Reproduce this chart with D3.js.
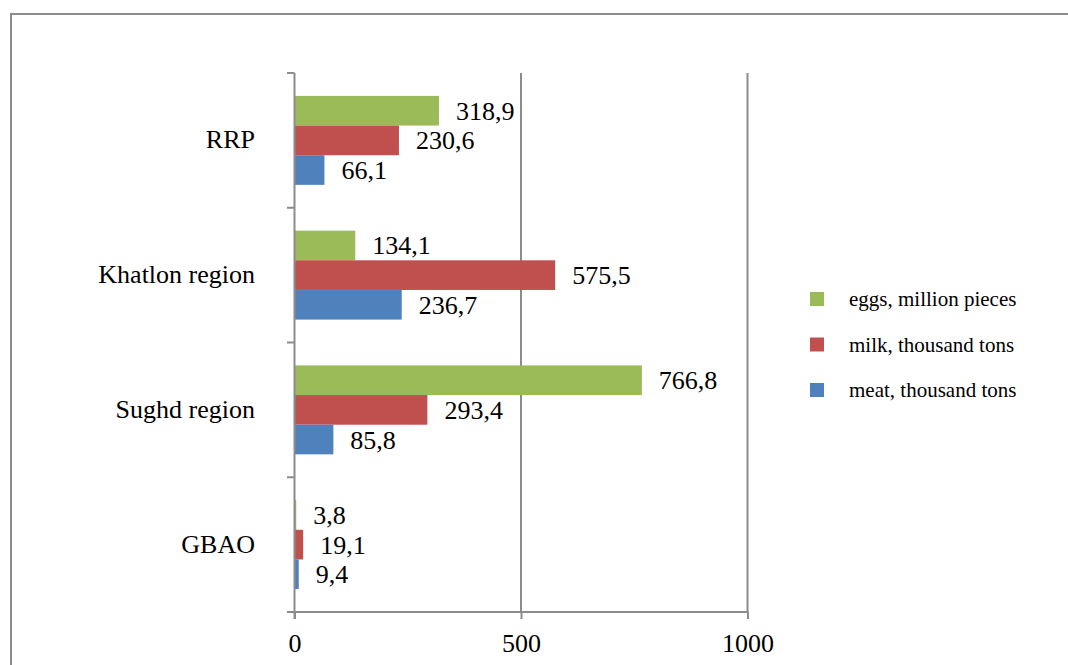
<!DOCTYPE html>
<html>
<head>
<meta charset="utf-8">
<script src="https://cdn.jsdelivr.net/npm/d3@7"></script>
<style>
  html, body { margin: 0; padding: 0; background: #fff; }
  svg { display: block; font-family: "Liberation Serif", "Times New Roman", serif; }
</style>
</head>
<body>
<svg id="chart" width="1068" height="665"></svg>
<script>
// Regions, top to bottom
const regions = ["RRP", "Khatlon region", "Sughd region", "GBAO"];
// Series, in the order they appear inside each group (top to bottom)
const seriesNames = ["eggs, million pieces", "milk, thousand tons", "meat, thousand tons"];
const seriesColors = ["#9BBB59", "#C0504D", "#4F81BD"];
const eggs = [318.9, 134.1, 766.8, 3.8];
const milk = [230.6, 575.5, 293.4, 19.1];
const meat = [66.1, 236.7, 85.8, 9.4];
const xTicks = [0, 500, 1000];

const seriesValues = [eggs, milk, meat];

const svg = d3.select("#chart");
const fmt = d3.formatLocale({ decimal: ",", thousands: " ", grouping: [3], currency: ["", ""] }).format(".1f");

// Outer frame
svg.append("rect")
  .attr("x", 11).attr("y", 14)
  .attr("width", 1100).attr("height", 700)
  .attr("fill", "none").attr("stroke", "#8c8c8c").attr("stroke-width", 2);

const plotTop = 73, plotBottom = 612;
const x = d3.scaleLinear().domain([0, 1000]).range([294.5, 747.5]);
const y = d3.scaleBand().domain(regions).range([plotTop, plotBottom])
  .paddingInner(0.34).paddingOuter(0.17);
const ySub = d3.scaleBand().domain(seriesNames).range([0, y.bandwidth()]);

const gridColor = "#8c8c8c";

// Vertical gridlines
svg.append("g").selectAll("line")
  .data(xTicks.filter(d => d > 0))
  .join("line")
  .attr("x1", d => x(d)).attr("x2", d => x(d))
  .attr("y1", plotTop).attr("y2", plotBottom)
  .attr("stroke", gridColor).attr("stroke-width", 2);

// Bars
const groups = svg.append("g").selectAll("g")
  .data(regions)
  .join("g")
  .attr("transform", d => `translate(0,${y(d)})`);

groups.selectAll("rect")
  .data((r, i) => seriesNames.map((s, k) => ({ s, k, v: seriesValues[k][i] })))
  .join("rect")
  .attr("x", x(0))
  .attr("y", d => ySub(d.s))
  .attr("width", d => x(d.v) - x(0))
  .attr("height", ySub.bandwidth())
  .attr("fill", d => seriesColors[d.k]);

// Value labels
groups.selectAll("text")
  .data((r, i) => seriesNames.map((s, k) => ({ s, k, v: seriesValues[k][i] })))
  .join("text")
  .attr("x", d => x(d.v) + 17)
  .attr("y", d => ySub(d.s) + ySub.bandwidth() / 2 + 9)
  .attr("font-size", 26)
  .attr("fill", "#000")
  .text(d => fmt(d.v));

// X axis
const xAxis = svg.append("g")
  .attr("transform", `translate(0,${plotBottom})`)
  .call(d3.axisBottom(x).tickValues(xTicks).tickSize(7).tickFormat(d3.format("d")));
xAxis.select(".domain").remove();
xAxis.selectAll(".tick line").attr("stroke", gridColor).attr("stroke-width", 2);
xAxis.selectAll(".tick text")
  .attr("y", 40).attr("dy", null)
  .attr("font-size", 26).attr("fill", "#000")
  .attr("font-family", "Liberation Serif, Times New Roman, serif");
svg.append("line")
  .attr("x1", 287).attr("x2", x(1000) + 1)
  .attr("y1", plotBottom).attr("y2", plotBottom)
  .attr("stroke", gridColor).attr("stroke-width", 2);

// Y axis with ticks at category boundaries
svg.append("line")
  .attr("x1", x(0)).attr("x2", x(0))
  .attr("y1", plotTop).attr("y2", plotBottom + 7)
  .attr("stroke", gridColor).attr("stroke-width", 2);
const boundaries = d3.range(regions.length + 1).map(i => plotTop + i * y.step());
svg.append("g").selectAll("line")
  .data(boundaries)
  .join("line")
  .attr("x1", 287).attr("x2", x(0))
  .attr("y1", d => d).attr("y2", d => d)
  .attr("stroke", gridColor).attr("stroke-width", 2);

// Category labels
svg.append("g").selectAll("text")
  .data(regions)
  .join("text")
  .attr("x", 255)
  .attr("y", d => y(d) + y.bandwidth() / 2 + 8)
  .attr("text-anchor", "end")
  .attr("font-size", 26)
  .attr("fill", "#000")
  .text(d => d);

// Legend
const legend = svg.append("g").selectAll("g")
  .data(seriesNames)
  .join("g")
  .attr("transform", (d, i) => `translate(810,${292 + i * 45.5})`);
legend.append("rect")
  .attr("width", 14).attr("height", 14)
  .attr("fill", (d, i) => seriesColors[i]);
legend.append("text")
  .attr("x", 39).attr("y", 14)
  .attr("font-size", 21)
  .attr("fill", "#000")
  .text(d => d);
</script>
</body>
</html>
